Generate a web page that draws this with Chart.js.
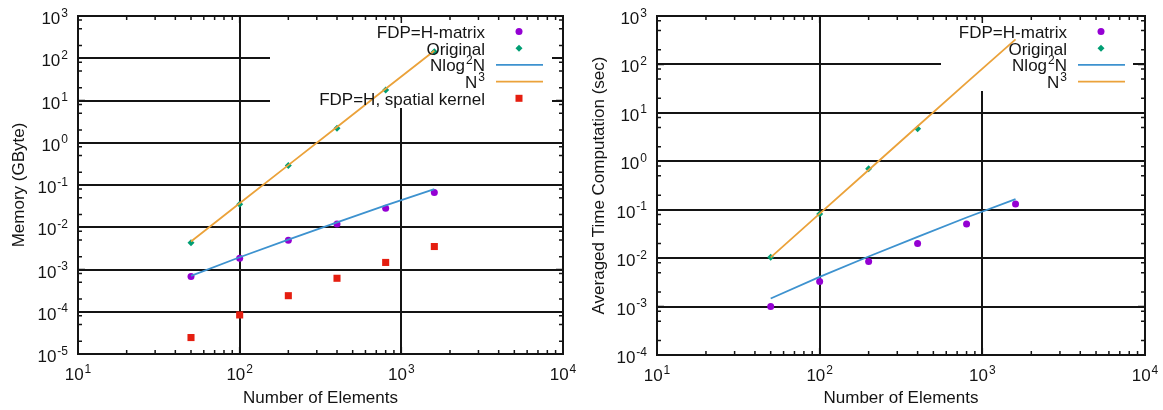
<!DOCTYPE html>
<html>
<head>
<meta charset="utf-8">
<title>Memory and computation time vs number of elements</title>
<script src="https://cdn.jsdelivr.net/npm/chart.js@4.4.1/dist/chart.umd.min.js"></script>
<style>
  body { margin: 0; background: #fff; }
  .panel { position: absolute; top: 0; }
</style>
</head>
<body>
<canvas id="memChart" class="panel" width="580" height="410" style="left:0"></canvas>
<canvas id="timeChart" class="panel" width="583" height="410" style="left:580px"></canvas>
<script>
// number of elements, shared x values
const elements = [50, 100, 200, 400, 800, 1600];

// left panel: memory (GByte)
const memHmatrix  = [6.8e-4, 1.85e-3, 4.9e-3, 1.2e-2, 2.8e-2, 6.6e-2];
const memOriginal = [4.3e-3, 3.5e-2, 0.29, 2.2, 17.8, 143];
const memSpatial  = [2.45e-5, 8.4e-5, 2.4e-4, 6.2e-4, 1.47e-3, 3.5e-3];
const memNlog2N   = [7.1e-4, 1.95e-3, 5.1e-3, 1.3e-2, 3.3e-2, 8.0e-2];
const memN3       = [4.6e-3, 3.7e-2, 0.295, 2.36, 18.9, 151];

// right panel: averaged time computation (sec)
const timeElements = [50, 100, 200, 400];
const timeHmatrix  = [1.0e-3, 3.3e-3, 8.5e-3, 2.0e-2, 5.1e-2, 0.132];
const timeOriginal = [1.04e-2, 8.2e-2, 0.70, 4.7];
const timeNlog2N   = [1.47e-3, 4.1e-3, 1.08e-2, 2.75e-2, 6.9e-2, 0.165];
const timeN3       = [1.04e-2, 8.3e-2, 0.66, 5.3, 42, 330];

// tick labels (powers of ten) and minor tick multipliers
const xExponents    = [1, 2, 3, 4];
const memExponents  = [-5, -4, -3, -2, -1, 0, 1, 2, 3];
const timeExponents = [-4, -3, -2, -1, 0, 1, 2, 3];
const xMinor = [2, 3, 4, 5, 6, 7, 8, 9];
const yMinor = [2, 5, 8];

const INK = '#141414';
const BASE = '17px "Liberation Sans", Arial, sans-serif';
const SUP = '12px "Liberation Sans", Arial, sans-serif';
const C_HMAT = '#9400d3', C_ORIG = '#009e73', C_NLOG = '#3d92cf', C_N3 = '#eba23a', C_SPAT = '#e51e10';

function pts(xs, ys) { return ys.map((v, i) => ({ x: xs[i], y: v })); }

// text with superscript parts, parts = [[text, isSup], ...]
function richWidth(ctx, parts) {
  let w = 0;
  parts.forEach(p => { ctx.font = p[1] ? SUP : BASE; w += ctx.measureText(p[0]).width + (p[1] ? 1 : 0); });
  return w;
}
function drawRich(ctx, parts, x, base) {
  parts.forEach(p => {
    ctx.font = p[1] ? SUP : BASE;
    if (p[1]) x += 1;
    ctx.fillText(p[0], x, p[1] ? base - 7.5 : base);
    x += ctx.measureText(p[0]).width;
  });
}

function framePlugin(cfg) {
  return {
    id: 'gnuframe',
    beforeDatasetsDraw(chart) {
      const { ctx, chartArea: a, scales: { x, y } } = chart;
      ctx.save();
      // key box hides the grid behind it
      ctx.fillStyle = '#fff';
      ctx.fillRect(cfg.box.left, a.top + 1.5, cfg.box.right - cfg.box.left, cfg.box.bottom - a.top - 1.5);
      ctx.strokeStyle = INK;
      ctx.lineWidth = 1.5;
      ctx.beginPath();
      const tick = (len, isX, px) => {
        if (isX) {
          ctx.moveTo(px, a.bottom); ctx.lineTo(px, a.bottom - len);
          ctx.moveTo(px, a.top); ctx.lineTo(px, a.top + len);
        } else {
          ctx.moveTo(a.left, px); ctx.lineTo(a.left + len, px);
          ctx.moveTo(a.right, px); ctx.lineTo(a.right - len, px);
        }
      };
      xExponents.forEach((e, i) => {
        tick(7, true, x.getPixelForValue(10 ** e));
        if (i < xExponents.length - 1) xMinor.forEach(m => tick(4, true, x.getPixelForValue(m * 10 ** e)));
      });
      cfg.yExp.forEach((e, i) => {
        tick(7, false, y.getPixelForValue(10 ** e));
        if (i < cfg.yExp.length - 1) yMinor.forEach(m => tick(4, false, y.getPixelForValue(m * 10 ** e)));
      });
      ctx.stroke();
      ctx.lineWidth = 2;
      ctx.strokeRect(a.left, a.top, a.right - a.left, a.bottom - a.top);
      ctx.restore();
    },
    afterDatasetsDraw(chart) {
      const { ctx, chartArea: a, scales: { x, y } } = chart;
      ctx.save();
      ctx.fillStyle = INK;
      ctx.textAlign = 'left';
      ctx.textBaseline = 'alphabetic';
      // tick labels
      xExponents.forEach(e => {
        const parts = [['10', 0], [String(e), 1]];
        const w = richWidth(ctx, parts);
        drawRich(ctx, parts, x.getPixelForValue(10 ** e) - w / 2, a.bottom + 26);
      });
      cfg.yExp.forEach(e => {
        const parts = [['10', 0], [String(e), 1]];
        const w = richWidth(ctx, parts);
        drawRich(ctx, parts, a.left - 10 - w, y.getPixelForValue(10 ** e) + 8);
      });
      // axis titles
      ctx.font = BASE;
      ctx.textAlign = 'center';
      ctx.fillText('Number of Elements', (a.left + a.right) / 2, 403);
      ctx.save();
      ctx.translate(24, (a.top + a.bottom) / 2);
      ctx.rotate(-Math.PI / 2);
      ctx.fillText(cfg.yTitle, 0, 0);
      ctx.restore();
      // key
      ctx.textAlign = 'left';
      cfg.key.forEach((k, i) => {
        const base = 38 + 16.7 * i;
        const w = richWidth(ctx, k.parts);
        ctx.fillStyle = INK;
        drawRich(ctx, k.parts, a.right - 78 - w, base);
        const cy = base - 6.5, cx = a.right - 44;
        ctx.fillStyle = k.color;
        ctx.strokeStyle = k.color;
        if (k.type === 'line') {
          ctx.lineWidth = 1.8;
          ctx.beginPath(); ctx.moveTo(a.right - 67, cy); ctx.lineTo(a.right - 20, cy); ctx.stroke();
        } else if (k.type === 'circle') {
          ctx.beginPath(); ctx.arc(cx, cy, 3.5, 0, Math.PI * 2); ctx.fill();
        } else if (k.type === 'diamond') {
          ctx.beginPath(); ctx.moveTo(cx, cy - 3.5); ctx.lineTo(cx + 3.5, cy); ctx.lineTo(cx, cy + 3.5); ctx.lineTo(cx - 3.5, cy); ctx.fill();
        } else {
          ctx.fillRect(cx - 3.5, cy - 3.5, 7, 7);
        }
      });
      ctx.restore();
    }
  };
}

function pointSet(label, data, style, radius, color, order) {
  return { label, data, showLine: false, pointStyle: style, pointRadius: radius,
    pointBackgroundColor: color, pointBorderWidth: 0, order };
}
function lineSet(label, data, color, order) {
  return { label, data, showLine: true, pointRadius: 0, borderColor: color, borderWidth: 1.8, order };
}

function makePanel(id, cfg) {
  return new Chart(document.getElementById(id), {
    type: 'scatter',
    data: { datasets: cfg.datasets },
    options: {
      responsive: false,
      animation: false,
      devicePixelRatio: 1,
      layout: { padding: { top: 16, right: cfg.padRight, left: 0, bottom: 0 } },
      plugins: { legend: { display: false }, tooltip: { enabled: false } },
      scales: {
        x: {
          type: 'logarithmic', min: 10, max: 1e4,
          afterBuildTicks: s => { s.ticks = xExponents.map(e => ({ value: 10 ** e })); },
          afterFit: s => { s.height = cfg.xHeight; },
          ticks: { display: false },
          grid: { color: INK, lineWidth: 2, drawTicks: false },
          border: { display: false }
        },
        y: {
          type: 'logarithmic', min: 10 ** cfg.yExp[0], max: 10 ** cfg.yExp[cfg.yExp.length - 1],
          afterBuildTicks: s => { s.ticks = cfg.yExp.map(e => ({ value: 10 ** e })); },
          afterFit: s => { s.width = cfg.yWidth; },
          ticks: { display: false },
          grid: { color: INK, lineWidth: 2, drawTicks: false },
          border: { display: false }
        }
      }
    },
    plugins: [framePlugin(cfg)]
  });
}

makePanel('memChart', {
  padRight: 17, xHeight: 56, yWidth: 78,
  yExp: memExponents,
  yTitle: 'Memory (GByte)',
  box: { left: 270, right: 552, bottom: 108 },
  datasets: [
    pointSet('FDP=H-matrix', pts(elements, memHmatrix), 'circle', 3.5, C_HMAT, 5),
    pointSet('Original', pts(elements, memOriginal), 'rectRot', 3.5, C_ORIG, 4),
    lineSet('Nlog2N', pts(elements, memNlog2N), C_NLOG, 3),
    lineSet('N3', pts(elements, memN3), C_N3, 2),
    pointSet('FDP=H, spatial kernel', pts(elements, memSpatial), 'rect', 5, C_SPAT, 1)
  ],
  key: [
    { parts: [['FDP=H-matrix', 0]], type: 'circle', color: C_HMAT },
    { parts: [['Original', 0]], type: 'diamond', color: C_ORIG },
    { parts: [['Nlog', 0], ['2', 1], ['N', 0]], type: 'line', color: C_NLOG },
    { parts: [['N', 0], ['3', 1]], type: 'line', color: C_N3 },
    { parts: [['FDP=H, spatial kernel', 0]], type: 'square', color: C_SPAT }
  ]
});

makePanel('timeChart', {
  padRight: 18, xHeight: 55, yWidth: 77,
  yExp: timeExponents,
  yTitle: 'Averaged Time Computation (sec)',
  box: { left: 361, right: 553, bottom: 91 },
  datasets: [
    pointSet('FDP=H-matrix', pts(elements, timeHmatrix), 'circle', 3.5, C_HMAT, 5),
    pointSet('Original', pts(timeElements, timeOriginal), 'rectRot', 3.5, C_ORIG, 4),
    lineSet('Nlog2N', pts(elements, timeNlog2N), C_NLOG, 3),
    lineSet('N3', pts(elements, timeN3), C_N3, 2)
  ],
  key: [
    { parts: [['FDP=H-matrix', 0]], type: 'circle', color: C_HMAT },
    { parts: [['Original', 0]], type: 'diamond', color: C_ORIG },
    { parts: [['Nlog', 0], ['2', 1], ['N', 0]], type: 'line', color: C_NLOG },
    { parts: [['N', 0], ['3', 1]], type: 'line', color: C_N3 }
  ]
});
</script>
</body>
</html>
